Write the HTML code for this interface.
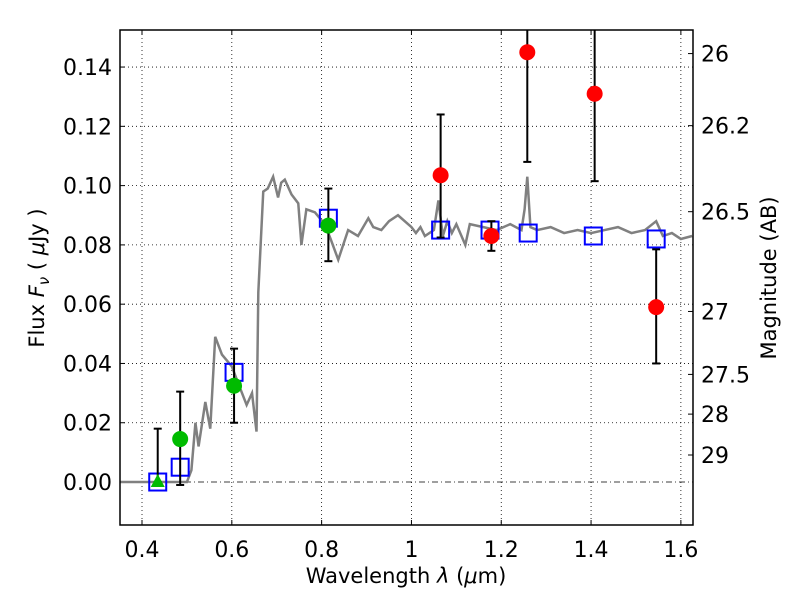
<!DOCTYPE html>
<html><head><meta charset="utf-8">
<style>
body{margin:0;background:#fff;}
svg{display:block;font-family:"DejaVu Sans","Liberation Sans",sans-serif;}
</style></head>
<body>
<svg id="chart" width="800" height="600"></svg>
<script>
const xTicks=[0.4,0.6,0.8,1.0,1.2,1.4,1.6];
const xTickLabels=["0.4","0.6","0.8","1","1.2","1.4","1.6"];
const yTicks=[0,0.02,0.04,0.06,0.08,0.10,0.12,0.14];
const yTickLabels=["0.00","0.02","0.04","0.06","0.08","0.10","0.12","0.14"];
const magTicks=[26,26.2,26.5,27,27.5,28,29];
const magTickLabels=["26","26.2","26.5","27","27.5","28","29"];
const specLam=[0.35,0.50,0.51,0.519,0.526,0.541,0.552,0.563,0.578,0.60,0.615,0.633,0.645,0.655,0.659,0.67,0.68,0.692,0.703,0.71,0.718,0.733,0.748,0.755,0.766,0.785,0.807,0.82,0.837,0.859,0.881,0.904,0.915,0.933,0.95,0.97,1.0,1.01,1.02,1.03,1.05,1.06,1.07,1.08,1.09,1.1,1.12,1.13,1.16,1.19,1.22,1.245,1.252,1.258,1.265,1.28,1.31,1.34,1.37,1.4,1.43,1.46,1.49,1.52,1.545,1.56,1.58,1.6,1.625];
const specFlux=[0,0,0.004,0.02,0.012,0.027,0.018,0.049,0.043,0.039,0.033,0.026,0.03,0.017,0.064,0.098,0.099,0.103,0.096,0.101,0.102,0.097,0.094,0.08,0.092,0.091,0.087,0.082,0.075,0.085,0.083,0.089,0.086,0.085,0.088,0.09,0.086,0.084,0.086,0.083,0.085,0.095,0.083,0.088,0.084,0.087,0.080,0.087,0.086,0.085,0.087,0.085,0.092,0.103,0.086,0.085,0.086,0.084,0.085,0.084,0.085,0.086,0.084,0.085,0.088,0.083,0.084,0.082,0.083];
const modelLam=[0.435,0.485,0.605,0.815,1.065,1.175,1.26,1.405,1.545];
const modelFlux=[0.0,0.005,0.037,0.089,0.085,0.085,0.084,0.083,0.082];
const greenLam=[0.485,0.605,0.815];
const greenFlux=[0.0145,0.0325,0.0865];
const greenHi=[0.0305,0.045,0.099];
const greenLo=[-0.001,0.020,0.0745];
const triLam=[0.435];
const triFlux=[0.0];
const triHi=[0.018];
const triLo=[0.0];
const redLam=[1.065,1.178,1.258,1.408,1.545];
const redFlux=[0.1035,0.083,0.145,0.131,0.059];
const redHi=[0.124,0.088,0.2,0.2,0.0785];
const redLo=[0.0825,0.078,0.108,0.1015,0.040];

const L=120,R=693,T=30,B=525,X0=0.351,X1=1.627,Y0=-0.0145,Y1=0.1525;
const sx=v=>L+(v-X0)/(X1-X0)*(R-L);
const sy=v=>B-(v-Y0)/(Y1-Y0)*(B-T);
const NS="http://www.w3.org/2000/svg";
const svg=document.getElementById('chart');
function mk(tag,attrs,parent){const e=document.createElementNS(NS,tag);for(const k in attrs)e.setAttribute(k,attrs[k]);(parent||svg).appendChild(e);return e;}
const clip=mk('clipPath',{id:'pc'});mk('rect',{x:L,y:T,width:R-L,height:B-T},clip);
xTicks.forEach((v,i)=>{
 const g=mk('line',{x1:sx(v),x2:sx(v),y1:T,y2:B,stroke:'#000','stroke-width':0.8,'stroke-dasharray':'1,3'});
 
 
 mk('line',{x1:sx(v),x2:sx(v),y1:B,y2:B-5,stroke:'#000'});
 mk('line',{x1:sx(v),x2:sx(v),y1:T,y2:T+5,stroke:'#000'});
 const t=mk('text',{x:sx(v),y:B+32,'text-anchor':'middle','font-size':22});
 t.textContent=xTickLabels[i];
 
 
});
yTicks.forEach((v,i)=>{
 const g=mk('line',{x1:L,x2:R,y1:sy(v),y2:sy(v),stroke:'#000','stroke-width':0.8,'stroke-dasharray':v===0?'6,3,1,3':'1,3'});
 
 
 mk('line',{x1:L,x2:L+5,y1:sy(v),y2:sy(v),stroke:'#000'});
 const t=mk('text',{x:L-8,y:sy(v)+8,'text-anchor':'end','font-size':22});
 t.textContent=yTickLabels[i];
 
 
});
magTicks.forEach((m,i)=>{
 const f=Math.pow(10,(23.9-m)/2.5);
 mk('line',{x1:R,x2:R-5,y1:sy(f),y2:sy(f),stroke:'#000'});
 const t=mk('text',{x:R+8,y:sy(f)+8,'font-size':22});
 t.textContent=magTickLabels[i];
 
 
});
const g=mk('g',{'clip-path':'url(#pc)'});
const sp=mk('polyline',{points:specLam.map((l,i)=>sx(l)+','+sy(specFlux[i])).join(' '),fill:'none',stroke:'#808080','stroke-width':2.5},g);


modelLam.forEach((l,i)=>{
 const r=mk('rect',{x:sx(l)-8.5,y:sy(modelFlux[i])-8.5,width:17,height:17,fill:'none',stroke:'#0000ff','stroke-width':2},g);
 
 
});
function eb(l,hi,lo){const x=sx(l);mk('line',{x1:x,x2:x,y1:sy(hi),y2:sy(lo),stroke:'#000','stroke-width':2},g);
 mk('line',{x1:x-4,x2:x+4,y1:sy(hi),y2:sy(hi),stroke:'#000','stroke-width':2},g);
 mk('line',{x1:x-4,x2:x+4,y1:sy(lo),y2:sy(lo),stroke:'#000','stroke-width':2},g);}
triLam.forEach((l,i)=>{eb(l,triHi[i],triLo[i]);const x=sx(l),y=sy(triFlux[i]);
 const p=mk('polygon',{points:`${x},${y-8} ${x-7},${y+5} ${x+7},${y+5}`,fill:'#00bb00'},g);
 
 });
greenLam.forEach((l,i)=>{eb(l,greenHi[i],greenLo[i]);
 const c=mk('circle',{cx:sx(l),cy:sy(greenFlux[i]),r:8,fill:'#00bb00'},g);
 
 });
redLam.forEach((l,i)=>{eb(l,redHi[i],redLo[i]);
 const c=mk('circle',{cx:sx(l),cy:sy(redFlux[i]),r:8,fill:'#ff0000'},g);
 
 });
const fr=mk('rect',{x:L,y:T,width:R-L,height:B-T,fill:'none',stroke:'#000','stroke-width':1.5});


</script>
<svg style="position:absolute;left:0;top:0" width="800" height="600">
<text x="406" y="583" text-anchor="middle" font-size="21" font-family="DejaVu Sans,sans-serif">Wavelength  <tspan font-style="italic">λ</tspan> (<tspan font-style="italic">μ</tspan>m)</text>
<text transform="translate(44,278) rotate(-90)" text-anchor="middle" font-size="21" font-family="DejaVu Sans,sans-serif">Flux  <tspan font-style="italic">F</tspan><tspan font-style="italic" font-size="15" dy="5">ν</tspan><tspan dy="-5">  ( </tspan><tspan font-style="italic">μ</tspan>Jy )</text>
<text transform="translate(776,278) rotate(-90)" text-anchor="middle" font-size="21" font-family="DejaVu Sans,sans-serif">Magnitude (AB)</text>
</svg>
</body></html>
